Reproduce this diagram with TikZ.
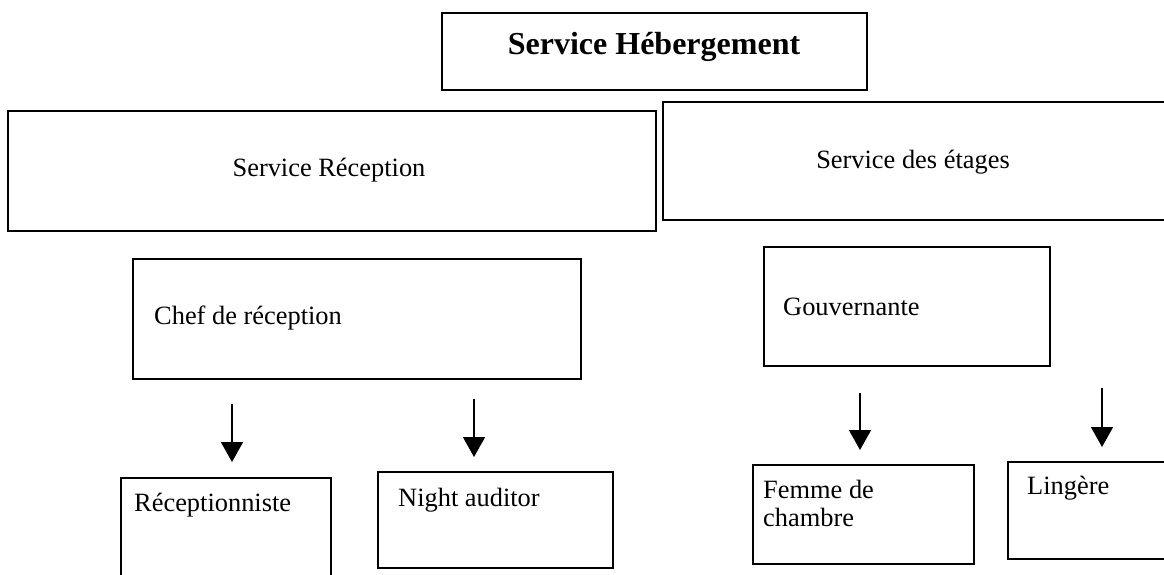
\documentclass[tikz,border=0pt]{standalone}
\usepackage{fontspec}
\setmainfont{Liberation Serif}
\usetikzlibrary{arrows.meta}
\tikzset{
  box/.style={draw=black, line width=1.7pt, rectangle, inner sep=0pt},
  txt/.style={inner sep=0pt, font=\fontsize{26.4}{31}\selectfont, align=left},
  ttl/.style={inner sep=0pt, font=\fontsize{32}{38}\selectfont\bfseries},
  arr/.style={line width=1.6pt, -{Triangle[width=22pt,length=20pt]}}
}
\begin{document}
\begin{tikzpicture}[x=1pt,y=-1pt]
\useasboundingbox (0,0) rectangle (1164,574);
% boxes
\node[box, minimum width=425pt, minimum height=77pt, anchor=north west] (heb) at (441,12) {};
\node[box, minimum width=648pt, minimum height=120pt, anchor=north west] (rec) at (7,110) {};
\node[box, minimum width=520pt, minimum height=118pt, anchor=north west] (eta) at (662,101) {};
\node[box, minimum width=448pt, minimum height=120pt, anchor=north west] (chef) at (132,258) {};
\node[box, minimum width=286pt, minimum height=119pt, anchor=north west] (gouv) at (763,246) {};
\node[box, minimum width=210pt, minimum height=110pt, anchor=north west] (recep) at (120,477) {};
\node[box, minimum width=235pt, minimum height=96pt, anchor=north west] (night) at (377,471) {};
\node[box, minimum width=221pt, minimum height=99pt, anchor=north west] (femme) at (752,464) {};
\node[box, minimum width=180pt, minimum height=97pt, anchor=north west] (ling) at (1007,461) {};
% texts
\node[ttl] (theb) at (654,47) {Service Hébergement};
\node[txt] (trec) at (329,170) {Service Réception};
\node[txt] (teta) at (913,162) {Service des étages};
\node[txt, anchor=west] (tchef) at (154,318) {Chef de réception};
\node[txt, anchor=west] (tgouv) at (783,307) {Gouvernante};
\node[txt, anchor=west] (trecep) at (134,505) {Réceptionniste};
\node[txt, anchor=west] (tnight) at (398,500) {Night auditor};
\node[txt, anchor=north west] (tfemme) at (763,480) {Femme de\\[-3pt]chambre};
\node[txt, anchor=west] (tling) at (1027,488) {Lingère};
% arrows
\coordinate (a1s) at (232,404); \coordinate (a1e) at (232,462);
\coordinate (a2s) at (474,399); \coordinate (a2e) at (474,457);
\coordinate (a3s) at (860,393); \coordinate (a3e) at (860,450);
\coordinate (a4s) at (1102,388); \coordinate (a4e) at (1102,447);
\draw[arr] (a1s) -- (a1e);
\draw[arr] (a2s) -- (a2e);
\draw[arr] (a3s) -- (a3e);
\draw[arr] (a4s) -- (a4e);
\end{tikzpicture}
\end{document}
